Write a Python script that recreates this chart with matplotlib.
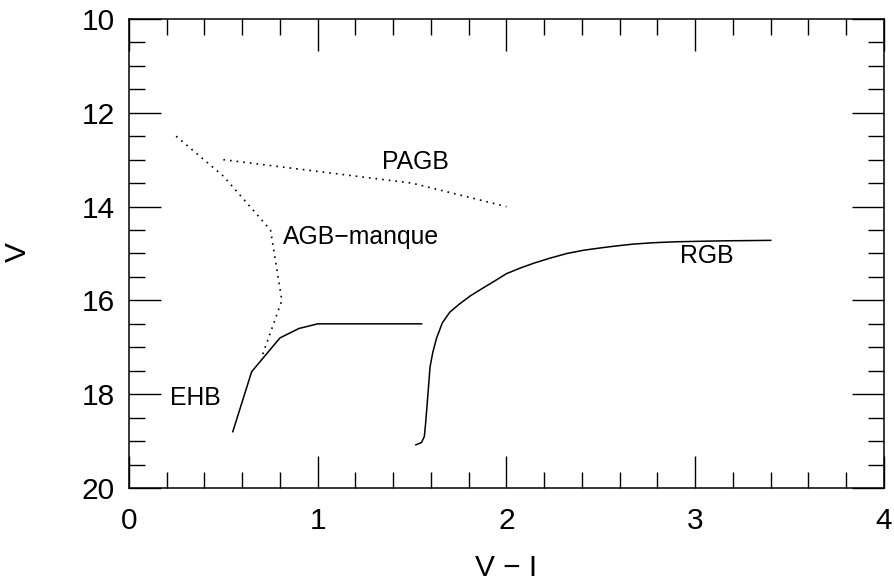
import matplotlib
matplotlib.use("Agg")
import matplotlib.pyplot as plt
from matplotlib.ticker import MultipleLocator

plt.rcParams['font.family'] = ['Liberation Sans', 'DejaVu Sans']

# Data
ehb_vi = [0.55, 0.65, 0.80, 0.90, 1.00, 1.55]
ehb_v = [18.80, 17.52, 16.80, 16.60, 16.50, 16.50]

agbm_vi = [0.25, 0.50, 0.75, 0.81, 0.70]
agbm_v = [12.50, 13.35, 14.50, 16.00, 17.25]

pagb_vi = [0.50, 1.50, 2.00]
pagb_v = [13.00, 13.50, 14.00]

rgb_vi = [1.52, 1.55, 1.565, 1.572, 1.58, 1.595, 1.61, 1.63, 1.66, 1.70, 1.75,
          1.81, 1.87, 1.94, 2.00, 2.08, 2.15, 2.23, 2.32, 2.41, 2.50, 2.58,
          2.67, 2.78, 2.90, 3.02, 3.15, 3.28, 3.40]
rgb_v = [19.08, 19.03, 18.90, 18.60, 18.20, 17.42, 17.10, 16.80, 16.48, 16.25,
         16.08, 15.90, 15.75, 15.58, 15.43, 15.30, 15.20, 15.10, 15.00, 14.93,
         14.88, 14.84, 14.80, 14.77, 14.75, 14.74, 14.73, 14.725, 14.72]

labels = ["PAGB", "AGB\u2212manque", "RGB", "EHB"]
label_x = [1.34, 0.816, 2.92, 0.217]
label_y = [13.20, 14.80, 15.21, 18.22]

fig = plt.figure(figsize=(8.95, 5.81), dpi=100)
ax = fig.add_axes([0.1441, 0.1601, 0.8436, 0.8072])

ax.plot(ehb_vi, ehb_v, color='black', lw=1.1)
ax.plot(rgb_vi, rgb_v, color='black', lw=1.1)
ax.plot(agbm_vi, agbm_v, color='black', lw=1.2, linestyle=(0, (1, 3)))
ax.plot(pagb_vi, pagb_v, color='black', lw=1.2, linestyle=(0, (1, 3)))

for t, x, y in zip(labels, label_x, label_y):
    ax.text(x, y, t, fontsize=17.8, ha='left', va='baseline')

ax.set_xlim(0, 4)
ax.set_ylim(20, 10)
ax.xaxis.set_major_locator(MultipleLocator(1))
ax.xaxis.set_minor_locator(MultipleLocator(0.2))
ax.yaxis.set_major_locator(MultipleLocator(2))
ax.yaxis.set_minor_locator(MultipleLocator(0.5))
ax.tick_params(which='both', direction='in', top=True, right=True, width=1.0)
ax.tick_params(which='major', length=23)
ax.tick_params(which='minor', length=11.5)
ax.tick_params(axis='x', which='major', labelsize=21.5, pad=13.5)
ax.tick_params(axis='y', which='major', labelsize=21.5, pad=10)
for s in ax.spines.values():
    s.set_linewidth(1.1)

ax.set_xlabel("V \u2212 I", fontsize=21.5, va='center', ha='center')
ax.xaxis.set_label_coords(0.5, -0.170)
ax.set_ylabel("V", fontsize=21.5, va='center', ha='center')
ax.yaxis.set_label_coords(-0.147, 0.503)

fig.savefig("out.png", dpi=100)
